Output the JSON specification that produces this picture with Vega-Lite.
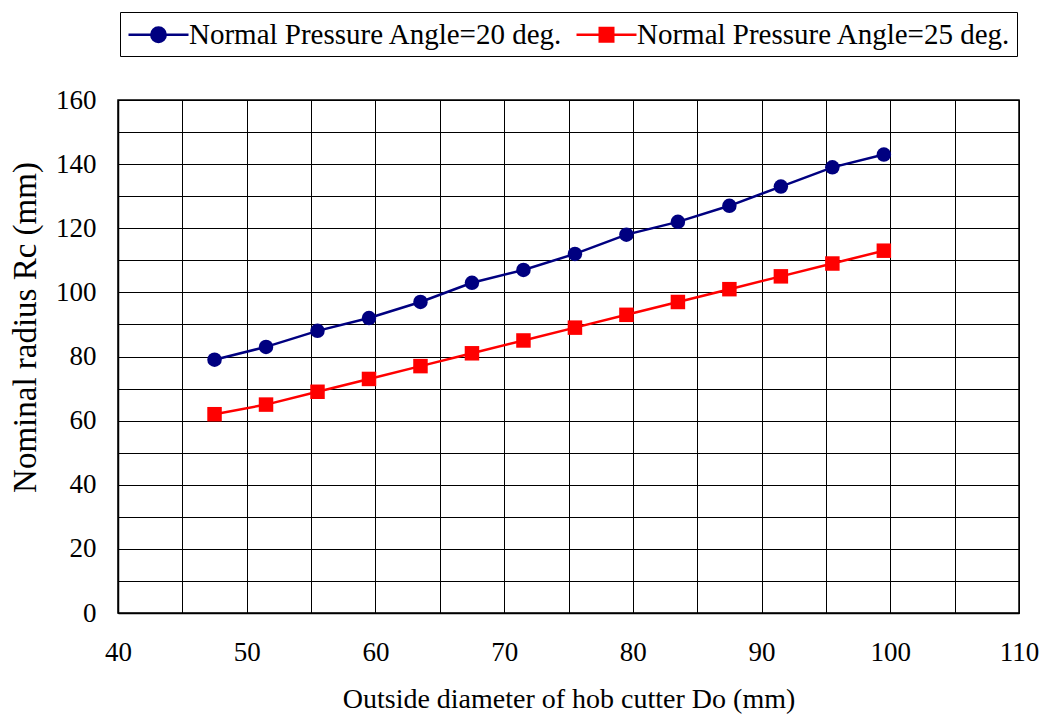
{
  "$schema": "https://vega.github.io/schema/vega-lite/v6.json",
  "autosize": "none",
  "width": 901,
  "height": 513,
  "padding": {"left": 118, "top": 100, "right": 27, "bottom": 109},
  "background": "white",
  "config": {
    "font": "Liberation Serif",
    "view": {"stroke": "black", "strokeWidth": 1.5},
    "axis": {"grid": true, "gridColor": "black", "gridOpacity": 1, "gridWidth": 1, "ticks": false, "domainColor": "black", "domainWidth": 1.5, "labelFont": "Liberation Serif", "titleFont": "Liberation Serif", "labelColor": "black", "titleColor": "black", "titleFontWeight": "normal", "labelFlush": false}
  },
  "data": {"values": [
    {"x": 47.5, "y": 79, "series": "Normal Pressure Angle=20 deg."},
    {"x": 51.5, "y": 83, "series": "Normal Pressure Angle=20 deg."},
    {"x": 55.5, "y": 88, "series": "Normal Pressure Angle=20 deg."},
    {"x": 59.5, "y": 92, "series": "Normal Pressure Angle=20 deg."},
    {"x": 63.5, "y": 97, "series": "Normal Pressure Angle=20 deg."},
    {"x": 67.5, "y": 103, "series": "Normal Pressure Angle=20 deg."},
    {"x": 71.5, "y": 107, "series": "Normal Pressure Angle=20 deg."},
    {"x": 75.5, "y": 112, "series": "Normal Pressure Angle=20 deg."},
    {"x": 79.5, "y": 118, "series": "Normal Pressure Angle=20 deg."},
    {"x": 83.5, "y": 122, "series": "Normal Pressure Angle=20 deg."},
    {"x": 87.5, "y": 127, "series": "Normal Pressure Angle=20 deg."},
    {"x": 91.5, "y": 133, "series": "Normal Pressure Angle=20 deg."},
    {"x": 95.5, "y": 139, "series": "Normal Pressure Angle=20 deg."},
    {"x": 99.5, "y": 143, "series": "Normal Pressure Angle=20 deg."},
    {"x": 47.5, "y": 62, "series": "Normal Pressure Angle=25 deg."},
    {"x": 51.5, "y": 65, "series": "Normal Pressure Angle=25 deg."},
    {"x": 55.5, "y": 69, "series": "Normal Pressure Angle=25 deg."},
    {"x": 59.5, "y": 73, "series": "Normal Pressure Angle=25 deg."},
    {"x": 63.5, "y": 77, "series": "Normal Pressure Angle=25 deg."},
    {"x": 67.5, "y": 81, "series": "Normal Pressure Angle=25 deg."},
    {"x": 71.5, "y": 85, "series": "Normal Pressure Angle=25 deg."},
    {"x": 75.5, "y": 89, "series": "Normal Pressure Angle=25 deg."},
    {"x": 79.5, "y": 93, "series": "Normal Pressure Angle=25 deg."},
    {"x": 83.5, "y": 97, "series": "Normal Pressure Angle=25 deg."},
    {"x": 87.5, "y": 101, "series": "Normal Pressure Angle=25 deg."},
    {"x": 91.5, "y": 105, "series": "Normal Pressure Angle=25 deg."},
    {"x": 95.5, "y": 109, "series": "Normal Pressure Angle=25 deg."},
    {"x": 99.5, "y": 113, "series": "Normal Pressure Angle=25 deg."}
  ]},
  "encoding": {
    "x": {"field": "x", "type": "quantitative", "scale": {"domain": [40, 110], "nice": false},
      "axis": {"values": [40,45,50,55,60,65,70,75,80,85,90,95,100,105,110], "labelExpr": "datum.value % 10 == 0 ? datum.label : ''", "labelFontSize": 27, "labelPadding": 26, "title": "Outside diameter of hob cutter Do (mm)", "titleFontSize": 28, "titlePadding": 20}},
    "y": {"field": "y", "type": "quantitative", "scale": {"domain": [0, 160], "nice": false},
      "axis": {"values": [0,10,20,30,40,50,60,70,80,90,100,110,120,130,140,150,160], "labelExpr": "datum.value % 20 == 0 ? datum.label : ''", "labelFontSize": 27, "labelPadding": 22, "title": "Nominal radius Rc (mm)", "titleFontSize": 33, "titlePadding": 13, "titleY": 227}},
    "color": {"field": "series", "type": "nominal", "scale": {"range": ["#000080", "#FF0000"]},
      "legend": {"title": null, "orient": "none", "direction": "horizontal", "legendX": 2, "legendY": -88,
        "strokeColor": "black", "fillColor": "white", "padding": 6, "labelFontSize": 29, "labelFont": "Liberation Serif", "labelColor": "black", "labelLimit": 0,
        "symbolSize": 900, "symbolStrokeWidth": 2.5, "labelOffset": 14, "columnPadding": 8,
        "symbolOffset": 16,
        "encode": {"symbols": {"update": {"shape": {"signal": "datum.value === 'Normal Pressure Angle=20 deg.' ? 'M-2,0H2M0.48,0A0.48,0.48,0,1,1,-0.48,0A0.48,0.48,0,1,1,0.48,0Z' : 'M-2,0H2M-0.45,-0.45H0.45V0.45H-0.45Z'"}}}}}},
    "shape": {"field": "series", "type": "nominal", "scale": {"range": ["circle", "square"]}, "legend": null}
  },
  "layer": [
    {"mark": {"type": "line", "strokeWidth": 2.5}},
    {"mark": {"type": "point", "filled": true, "opacity": 1, "size": 210}}
  ]
}
